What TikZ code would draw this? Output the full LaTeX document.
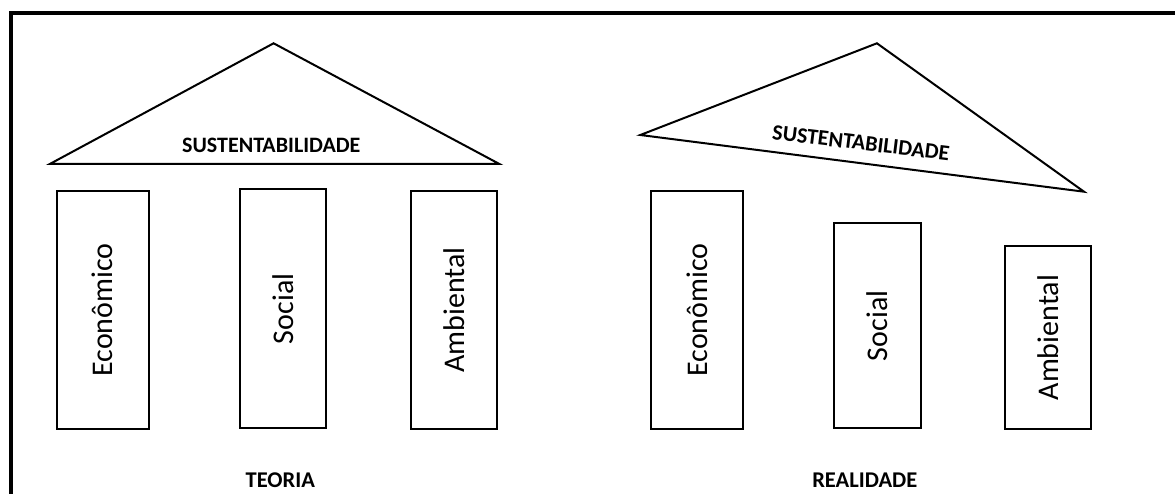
\documentclass[tikz,border=0pt]{standalone}
\usepackage{fontspec}
\setmainfont{Carlito}
\begin{document}
\begin{tikzpicture}[x=1pt,y=-1pt,
  pillar/.style={draw,line width=2pt,rectangle,rotate=90,inner sep=0pt,outer sep=0pt,
    font=\fontsize{30}{32}\selectfont},
  roof/.style={draw,line width=2pt,line join=miter},
  rooflabel/.style={font=\bfseries\fontsize{22}{24}\selectfont,inner sep=0pt},
  caption/.style={font=\bfseries\fontsize{22.5}{24}\selectfont,inner sep=0pt}]
\useasboundingbox (0,0) rectangle (1175,494);
% open frame (left and top sides)
\draw[line width=4pt,line join=miter] (11,500) -- (11,13.5) -- (1180,13.5);

% ---- theory: level roof on three equal pillars
\coordinate (tA) at (273.6,43.3);
\coordinate (tL) at (49.8,164);
\coordinate (tR) at (499.4,164);
\draw[roof] (tL) -- (tA) -- (tR) -- cycle;
\node[rooflabel] (tlabel) at (271.3,145) {SUSTENTABILIDADE};

\node[pillar,minimum width=238.6pt,minimum height=92pt] (teco) at (102.6,310) {Econômico};
\node[pillar,minimum width=239pt,minimum height=86.4pt] (tsoc) at (283.2,308.8) {Social};
\node[pillar,minimum width=238.6pt,minimum height=85.3pt] (tamb) at (454,310) {Ambiental};
\node[caption] (teoria) at (280.3,480) {TEORIA};

% ---- reality: tilted roof on pillars of falling height
\coordinate (rA) at (876.9,43.3);
\coordinate (rL) at (640.3,135);
\coordinate (rR) at (1084,191.7);
\draw[roof] (rL) -- (rA) -- (rR) -- cycle;
\node[rooflabel,rotate=-7] (rlabel) at (861,143) {SUSTENTABILIDADE};

\node[pillar,minimum width=238.6pt,minimum height=92.4pt] (reco) at (696.8,310) {Econômico};
\node[pillar,minimum width=205pt,minimum height=87.3pt] (rsoc) at (877.2,325.8) {Social};
\node[pillar,minimum width=183.3pt,minimum height=85.7pt] (ramb) at (1047.9,337.7) {Ambiental};
\node[caption] (realidade) at (864.8,480) {REALIDADE};
\end{tikzpicture}
\end{document}
